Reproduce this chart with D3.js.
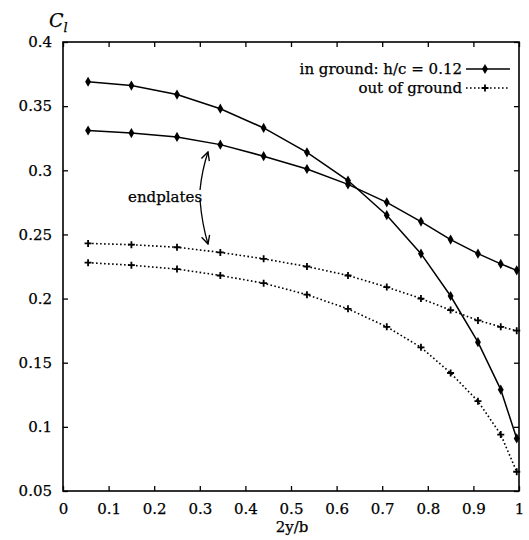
<!DOCTYPE html>
<meta charset="utf-8">
<style>
body { margin: 0; background: #fff; }
svg text { font-family: "DejaVu Serif", "Liberation Serif", serif; fill: #000; stroke: #000; stroke-width: 0.25px; }
</style>
<svg width="529" height="540"></svg>
<script src="https://d3js.org/d3.v7.min.js"></script>
<script>
// spanwise stations
var span = [0.055, 0.15, 0.25, 0.345, 0.44, 0.535, 0.625, 0.71, 0.785, 0.85, 0.91, 0.96, 0.995];
var inGroundEnd = [0.369, 0.366, 0.359, 0.348, 0.333, 0.314, 0.292, 0.265, 0.235, 0.202, 0.166, 0.129, 0.091];
var inGroundNoEnd = [0.331, 0.329, 0.326, 0.320, 0.311, 0.301, 0.289, 0.275, 0.260, 0.246, 0.235, 0.227, 0.222];
var outGroundEnd = [0.243, 0.242, 0.240, 0.236, 0.231, 0.225, 0.218, 0.209, 0.200, 0.191, 0.183, 0.178, 0.175];
var outGroundNoEnd = [0.228, 0.226, 0.223, 0.218, 0.212, 0.203, 0.192, 0.178, 0.162, 0.142, 0.120, 0.094, 0.065];
var xTicks = [0, 0.1, 0.2, 0.3, 0.4, 0.5, 0.6, 0.7, 0.8, 0.9, 1];
var yTicks = [0.05, 0.1, 0.15, 0.2, 0.25, 0.3, 0.35, 0.4];

var svg = d3.select("svg");
var m = {left: 63, right: 519, top: 42, bottom: 491};

var x = d3.scaleLinear().domain([0, 1]).range([m.left, m.right]);
var y = d3.scaleLinear().domain([0.05, 0.4]).range([m.bottom, m.top]);

// frame
svg.append("rect")
    .attr("x", m.left).attr("y", m.top)
    .attr("width", m.right - m.left).attr("height", m.bottom - m.top)
    .attr("fill", "none").attr("stroke", "#000").attr("stroke-width", 1.6);

var fmt = function(d) { return String(+d.toFixed(2)); };
function clean(g) {
  g.select(".domain").remove();
  g.attr("font-family", null).attr("font-size", null);
  g.selectAll(".tick text").style("font-size", "15px");
  g.selectAll(".tick line").attr("stroke-width", 1.3);
}

svg.append("g").attr("transform", "translate(0," + m.bottom + ")")
  .call(d3.axisBottom(x).tickValues(xTicks).tickFormat(fmt).tickSize(-5).tickPadding(12))
  .call(clean);
svg.append("g").attr("transform", "translate(0," + m.top + ")")
  .call(d3.axisTop(x).tickValues(xTicks).tickFormat("").tickSize(-5))
  .call(clean);
svg.append("g").attr("transform", "translate(" + m.left + ",0)")
  .call(d3.axisLeft(y).tickValues(yTicks).tickFormat(fmt).tickSize(-5).tickPadding(11))
  .call(clean);
svg.append("g").attr("transform", "translate(" + m.right + ",0)")
  .call(d3.axisRight(y).tickValues(yTicks).tickFormat("").tickSize(-5))
  .call(clean);

// axis titles
var yl = svg.append("text").attr("x", 49).attr("y", 27).style("font-size", "19px").style("font-style", "italic");
yl.append("tspan").text("C");
yl.append("tspan").attr("dy", 5).style("font-size", "13px").text("l");
svg.append("text").attr("x", 292).attr("y", 532).attr("text-anchor", "middle")
    .style("font-size", "15px").text("2y/b");

var line = d3.line().x(function(d) { return x(d[0]); }).y(function(d) { return y(d[1]); });
function pts(vals) { return span.map(function(s, i) { return [s, vals[i]]; }); }

var diamond = d3.symbol().type(d3.symbolDiamond).size(30);
function drawSolid(vals) {
  var p = pts(vals);
  svg.append("path").attr("d", line(p)).attr("fill", "none").attr("stroke", "#000").attr("stroke-width", 1.5);
  svg.append("g").selectAll("path").data(p).enter().append("path")
    .attr("d", diamond).attr("fill", "#000")
    .attr("transform", function(d) { return "translate(" + x(d[0]) + "," + y(d[1]) + ")"; });
}
function plus(g, cx, cy) {
  g.append("path").attr("d", "M" + (cx - 3.5) + "," + cy + "H" + (cx + 3.5) + "M" + cx + "," + (cy - 3.5) + "V" + (cy + 3.5))
    .attr("stroke", "#000").attr("stroke-width", 1.8);
}
function drawDotted(vals) {
  var p = pts(vals);
  svg.append("path").attr("d", line(p)).attr("fill", "none").attr("stroke", "#000")
    .attr("stroke-width", 1.6).attr("stroke-dasharray", "1.6,2.4");
  var g = svg.append("g");
  p.forEach(function(d) { plus(g, x(d[0]), y(d[1])); });
}
drawSolid(inGroundEnd);
drawSolid(inGroundNoEnd);
drawDotted(outGroundEnd);
drawDotted(outGroundNoEnd);

// legend
svg.append("text").attr("x", 462).attr("y", 74).attr("text-anchor", "end").style("font-size", "15px")
    .text("in ground: h/c = 0.12");
svg.append("text").attr("x", 462).attr("y", 93).attr("text-anchor", "end").style("font-size", "15px")
    .text("out of ground");
svg.append("line").attr("x1", 466).attr("x2", 510).attr("y1", 69).attr("y2", 69).attr("stroke", "#000").attr("stroke-width", 1.5);
svg.append("path").attr("d", diamond).attr("fill", "#000").attr("transform", "translate(485,69)");
svg.append("line").attr("x1", 466).attr("x2", 510).attr("y1", 88).attr("y2", 88).attr("stroke", "#000")
    .attr("stroke-width", 1.5).attr("stroke-dasharray", "1.6,2.4");
plus(svg, 485, 88);

// annotation
svg.append("defs").append("marker").attr("id", "ah").attr("viewBox", "0 0 10 10")
    .attr("refX", 9).attr("refY", 5).attr("markerWidth", 8).attr("markerHeight", 8).attr("orient", "auto")
  .append("path").attr("d", "M1,1 L9,5 L1,9").attr("fill", "none").attr("stroke", "#000").attr("stroke-width", 1.3);
svg.append("text").attr("x", 128).attr("y", 202).style("font-size", "15px").text("endplates");
svg.append("path").attr("d", "M200,190 Q202,170 208,152").attr("fill", "none").attr("stroke", "#000")
    .attr("stroke-width", 1.3).attr("marker-end", "url(#ah)");
svg.append("path").attr("d", "M200,200 Q202,224 208,244").attr("fill", "none").attr("stroke", "#000")
    .attr("stroke-width", 1.3).attr("marker-end", "url(#ah)");
</script>
